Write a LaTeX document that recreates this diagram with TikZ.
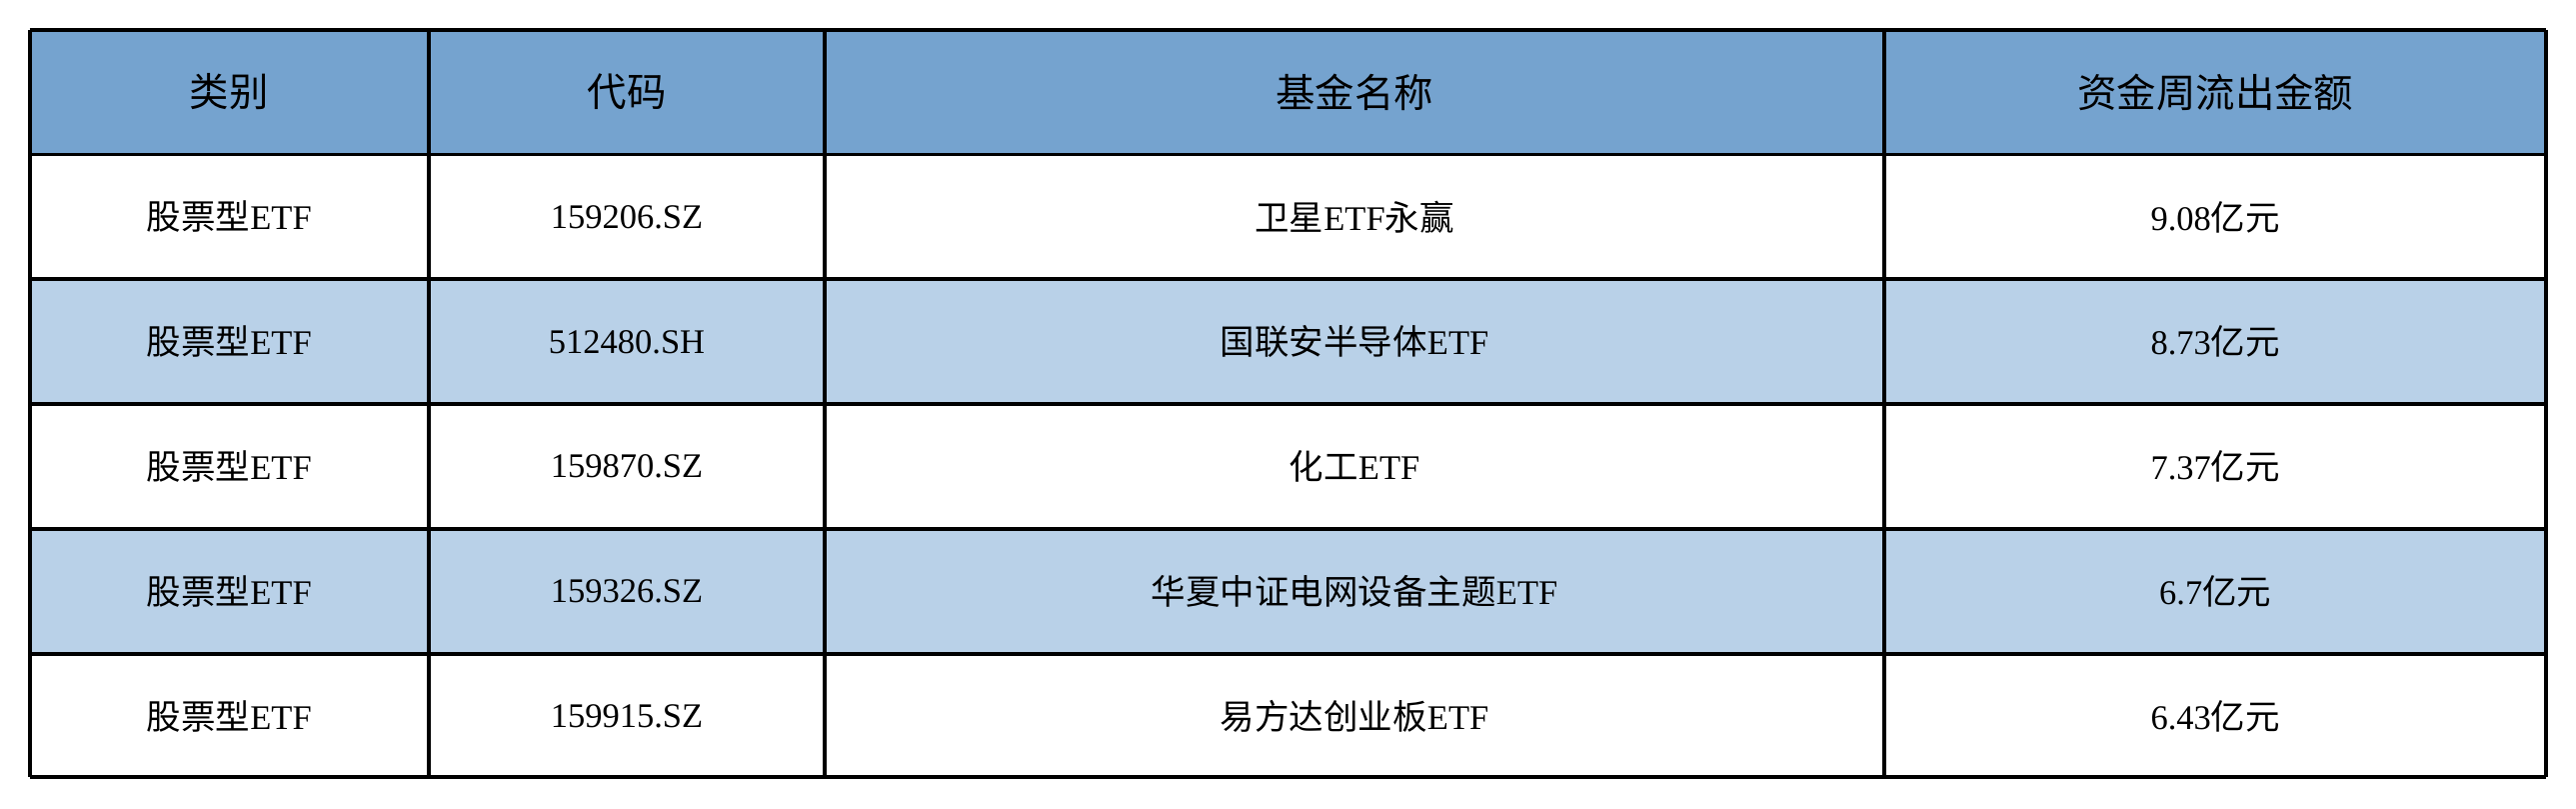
\documentclass[tikz,border=0pt]{standalone}
\usepackage{fontspec}
\setmainfont{Liberation Serif}
\newfontfamily\cjk{Noto Sans CJK SC}
\usetikzlibrary{positioning}
\definecolor{headblue}{HTML}{75A3CF}
\definecolor{rowblue}{HTML}{B9D1E8}
\tikzset{
    grid line/.style={line width=1.2pt, black},
    cell/.style={anchor=center, inner sep=0pt, font=\fontsize{10.5}{12}\selectfont},
    head/.style={cell, font=\cjk\fontsize{12}{14}\selectfont}
}
\newcommand{\zh}[1]{{\cjk #1}}
\begin{document}
\begin{tikzpicture}[x=0.5pt, y=-0.5pt]
    \useasboundingbox (0,0) rectangle (1568,492);
    % row fills
    \fill[headblue] (18,18) rectangle (1550,94);
    \fill[rowblue] (18,170) rectangle (1550,246);
    \fill[rowblue] (18,322) rectangle (1550,398);
    % grid
    \foreach \y in {18,94,170,246,322,398,473}
        \draw[grid line] (18,\y) -- (1550,\y);
    \foreach \x in {18,261,502,1147,1550}
        \draw[grid line] (\x,18) -- (\x,473);
    % header
    \node[head] (h1) at (139.5,56) {类别};
    \node[head] (h2) at (381.5,56) {代码};
    \node[head] (h3) at (824.5,56) {基金名称};
    \node[head] (h4) at (1348.5,56) {资金周流出金额};
    % body
    \foreach \i/\code/\name/\amt in {
        1/159206.SZ/{\zh{卫星}ETF\zh{永赢}}/{9.08\zh{亿元}},
        2/512480.SH/{\zh{国联安半导体}ETF}/{8.73\zh{亿元}},
        3/159870.SZ/{\zh{化工}ETF}/{7.37\zh{亿元}},
        4/159326.SZ/{\zh{华夏中证电网设备主题}ETF}/{6.7\zh{亿元}},
        5/159915.SZ/{\zh{易方达创业板}ETF}/{6.43\zh{亿元}}} {
        \node[cell] (type\i) at (139.5,56+76*\i) {\zh{股票型}ETF};
        \node[cell] (code\i) at (381.5,56+76*\i) {\code};
        \node[cell] (name\i) at (824.5,56+76*\i) {\name};
        \node[cell] (amt\i) at (1348.5,56+76*\i) {\amt};
    }
\end{tikzpicture}
\end{document}
